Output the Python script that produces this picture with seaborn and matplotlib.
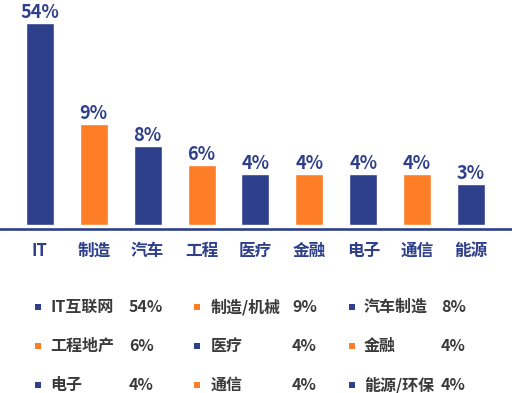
import matplotlib
matplotlib.use("Agg")
import matplotlib.pyplot as plt
import seaborn as sns
import pandas as pd

# ---- data ----
categories = ["IT", "制造", "汽车", "工程", "医疗", "金融", "电子", "通信", "能源"]
bar_heights = [54, 27.0, 21.1, 16.0, 13.6, 13.6, 13.6, 13.6, 11.0]
bar_labels = ["54%", "9%", "8%", "6%", "4%", "4%", "4%", "4%", "3%"]
legend_names = ["IT互联网", "制造/机械", "汽车制造", "工程地产", "医疗", "金融", "电子", "通信", "能源/环保"]
legend_values = ["54%", "9%", "8%", "6%", "4%", "4%", "4%", "4%", "4%"]

BLUE = "#2e3f8b"
ORANGE = "#fd7e26"
colors = [BLUE, ORANGE, BLUE, ORANGE, BLUE, ORANGE, BLUE, ORANGE, BLUE]
legend_colors = [BLUE, ORANGE, BLUE, ORANGE, BLUE, ORANGE, BLUE, ORANGE, BLUE]

sns.set_theme(style="white")
plt.rcParams["font.family"] = ["Noto Sans CJK SC", "DejaVu Sans"]

W, H = 512, 393
fig = plt.figure(figsize=(W / 100, H / 100), dpi=100)

# main axes: pixel coordinates top=23 (y=54) bottom=231
px_per_unit = 202 / 54
top_px, bot_px = 23, 231
ax = fig.add_axes([0, (H - bot_px) / H, 1, (bot_px - top_px) / H])

df = pd.DataFrame({"cat": categories, "h": bar_heights})
sns.barplot(data=df, x="cat", y="h", hue="cat", palette=colors, width=0.52,
            legend=False, ax=ax, saturation=1)

ax.set_xlim(-0.74, 8.76)
ax.set_ylim(-(bot_px - 225) / px_per_unit, 54)
ax.axhline(-(229.3 - 225) / px_per_unit, color=BLUE, lw=1.9, clip_on=False)
for s in ax.spines.values():
    s.set_visible(False)
ax.set_yticks([])
ax.set_xlabel("")
ax.set_ylabel("")
ax.tick_params(axis="x", length=0, pad=8)
for t in ax.get_xticklabels():
    t.set_fontsize(12)
    t.set_fontweight("bold")
    t.set_color(BLUE)

# label each bar
for i, (h, lab) in enumerate(zip(bar_heights, bar_labels)):
    ax.annotate(lab, (i, h), xytext=(0, 0.5), textcoords="offset points",
                ha="center", va="bottom", fontsize=13, fontweight="bold",
                color=BLUE, annotation_clip=False)

# legend axes in pixel coords
lax = fig.add_axes([0, 0, 1, (H - 285) / H])
lax.set_xlim(0, W)
lax.set_ylim(H, 285)
lax.axis("off")
col_sq = [38, 197, 352]
col_name = [50, 211, 364]
col_val = [129, 292, 441]
row_y = [307, 346, 385]
for k, (nm, val, c) in enumerate(zip(legend_names, legend_values, legend_colors)):
    r, cc = divmod(k, 3)
    y = row_y[r]
    lax.scatter([col_sq[cc]], [y], marker="s", s=20, color=c, linewidths=0)
    lax.text(col_name[cc], y, nm, ha="left", va="center", fontsize=11.5,
             fontweight="bold", color="#3a3a3a")
    lax.text(col_val[cc], y, val, ha="left", va="center", fontsize=11.5,
             fontweight="bold", color="#3a3a3a")

fig.savefig("out.png", dpi=100)
